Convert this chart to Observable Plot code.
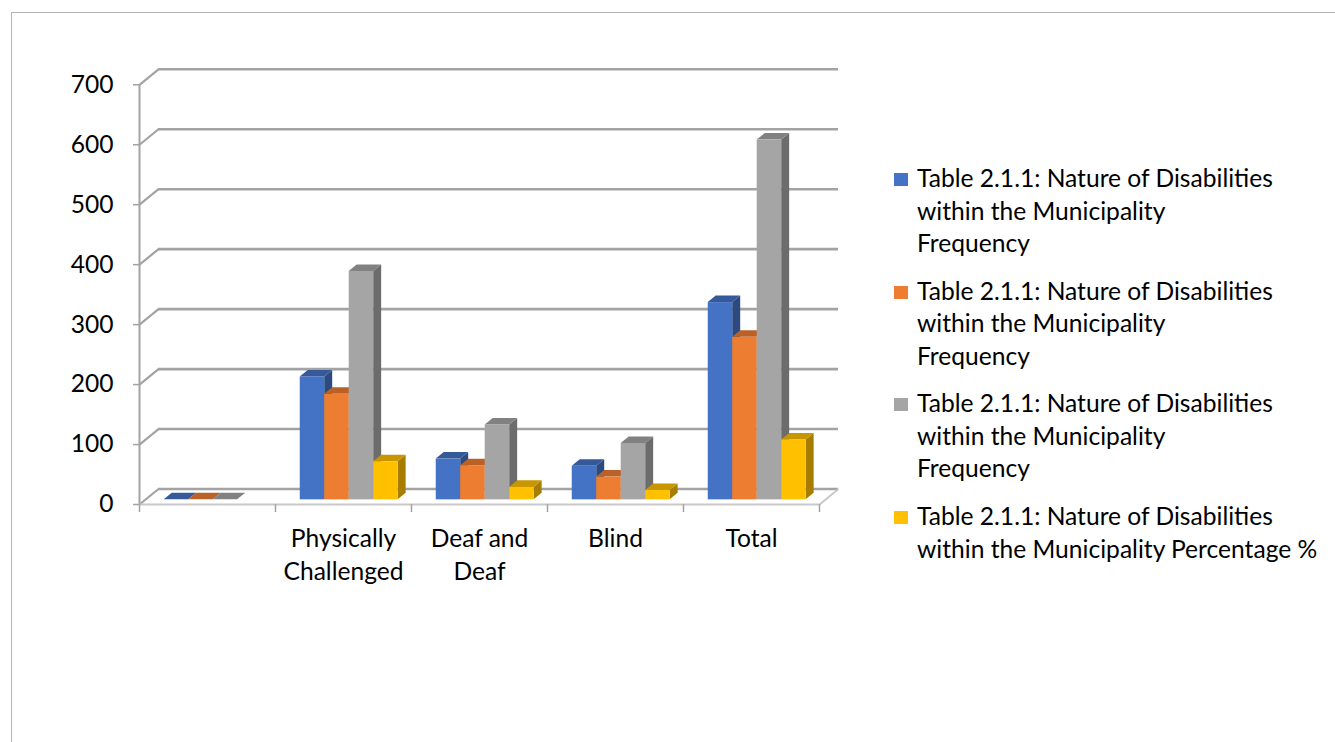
<!DOCTYPE html>
<html>
<head>
<meta charset="utf-8">
<script src="https://cdn.jsdelivr.net/npm/d3@7"></script>
<script src="https://cdn.jsdelivr.net/npm/@observablehq/plot@0.6"></script>
<style>
  html, body { margin: 0; padding: 0; overflow: hidden; background: #fff; width: 1335px; height: 742px; }
  #frame { position: absolute; left: 11px; top: 12px; width: 2000px; height: 2000px; border: 1.5px solid #b3b3b3; }
  #chart { position: absolute; left: 0; top: 0; }
  #legend { position: absolute; left: 894px; top: 162px; font-family: Lato, "Open Sans", sans-serif; font-size: 24.6px; line-height: 32.5px; color: #000; }
  .item { position: relative; padding-left: 23px; margin-bottom: 15.2px; white-space: pre; }
  .sw { position: absolute; left: 0; top: 11px; width: 14px; height: 13px; }
</style>
</head>
<body>
<div id="frame"></div>
<div id="chart"></div>
<div id="legend"></div>
<script>
// ---- data ----
const categories = ["", "Physically Challenged", "Deaf and Deaf", "Blind", "Total"];
const categoryLabels = ["", "Physically\nChallenged", "Deaf and\nDeaf", "Blind", "Total"];
const seriesNames = [
  "Table 2.1.1: Nature of Disabilities within the Municipality Frequency",
  "Table 2.1.1: Nature of Disabilities within the Municipality Frequency",
  "Table 2.1.1: Nature of Disabilities within the Municipality Frequency",
  "Table 2.1.1: Nature of Disabilities within the Municipality Percentage %"
];
const legendLines = [
  "Table 2.1.1: Nature of Disabilities\nwithin the Municipality\nFrequency",
  "Table 2.1.1: Nature of Disabilities\nwithin the Municipality\nFrequency",
  "Table 2.1.1: Nature of Disabilities\nwithin the Municipality\nFrequency",
  "Table 2.1.1: Nature of Disabilities\nwithin the Municipality Percentage %"
];
const series1 = [0, 205, 68, 56, 329];
const series2 = [0, 176, 57, 38, 271];
const series3 = [0, 381, 125, 94, 600];
const series4 = [null, 63.5, 20.8, 15.7, 100];
const yTicks = [0, 100, 200, 300, 400, 500, 600, 700];
const colors = ["#4472C4", "#ED7D31", "#A5A5A5", "#FFC000"];

// ---- geometry of the oblique 3D look (styling) ----
const DXU = 19 / 136;      // full floor depth in x units
const DYU = 15.5 / 0.5996; // full floor depth in y units
const F0 = 0.3, F1 = 0.72; // bar depth from / to
const BW = 0.18;           // bar width (category = 1)
const G0 = (1 - 4 * BW) / 2;

const allSeries = [series1, series2, series3, series4];
const bars = [];
allSeries.forEach((vals, s) => {
  vals.forEach((v, c) => {
    if (v == null) return;
    const x1 = c + G0 + s * BW + F0 * DXU;
    bars.push({id: `${s}-${c}`, s, c, v, x1, x2: x1 + BW});
  });
});
const dd = (F1 - F0);
function tops(s) {
  return bars.filter(b => b.s === s).flatMap(b => [
    {id: b.id, y: b.v + F0 * DYU, xl: b.x1, xr: b.x2},
    {id: b.id, y: b.v + F1 * DYU, xl: b.x1 + dd * DXU, xr: b.x2 + dd * DXU}
  ]);
}
function sides(s) {
  return bars.filter(b => b.s === s).flatMap(b => [
    {id: b.id, x: b.x2, y1: F0 * DYU, y2: b.v + F0 * DYU},
    {id: b.id, x: b.x2 + dd * DXU, y1: F1 * DYU, y2: b.v + F1 * DYU}
  ]);
}
const fronts = s => bars.filter(b => b.s === s);

const barMarks = [];
for (let s = 0; s < 4; s++) {
  const base = d3.color(colors[s]);
  barMarks.push(
    Plot.areaY(sides(s), {x: "x", y1: "y1", y2: "y2", z: "id", fill: base.darker(1.2).formatHex()}),
    Plot.areaX(tops(s), {y: "y", x1: "xl", x2: "xr", z: "id", fill: base.darker(0.7).formatHex()}),
    Plot.rect(fronts(s), {x1: "x1", x2: "x2", y1: () => F0 * DYU, y2: d => d.v + F0 * DYU, fill: colors[s]})
  );
}

const gridColor = "#a3a3a3";
const W = 860, H = 742;
const chart = Plot.plot({
  width: W,
  height: H,
  marginLeft: 139,
  marginRight: W - 819,
  marginTop: 84.3,
  marginBottom: H - 504,
  style: {fontFamily: "Lato, 'Open Sans', sans-serif", fontSize: "24.6px", color: "#000", background: "transparent"},
  x: {domain: [0, categories.length]},
  y: {domain: [0, 700]},
  marks: [
    // back wall gridlines
    Plot.ruleY(yTicks, {y: d => d + DYU, x1: DXU, x2: categories.length + DXU, stroke: gridColor, strokeWidth: 2.6}),
    // left wall diagonals
    Plot.link(yTicks, {x1: 0, y1: d => d, x2: DXU, y2: d => d + DYU, stroke: gridColor, strokeWidth: 2.2}),
    // front vertical axis line
    Plot.ruleX([0], {y1: 0, y2: 700, stroke: gridColor, strokeWidth: 2}),
    // floor front edge and right diagonal
    Plot.ruleY([0], {x1: 0, x2: categories.length, stroke: "#c8c8c8", strokeWidth: 2}),
    Plot.link([categories.length], {x1: d => d, y1: 0, x2: d => d + DXU, y2: DYU, stroke: "#c8c8c8", strokeWidth: 2}),
    Plot.axisY({ticks: yTicks, tickSize: 6, tickPadding: 20, stroke: gridColor, strokeWidth: 1.5, tickFormat: d => String(d), label: null}),
    Plot.axisX({ticks: d3.range(categories.length + 1), tickSize: 8, tickFormat: () => "", stroke: gridColor, strokeWidth: 1.5, label: null}),
    ...barMarks,
    Plot.text(categories.map((c, i) => ({i, label: categoryLabels[i]})), {
      x: d => d.i + 0.5, y: 0, text: "label", lineAnchor: "top", dy: 19, lineHeight: 1.34, fill: "#000"
    })
  ]
});
document.getElementById("chart").appendChild(chart);

// legend
const legend = document.getElementById("legend");
seriesNames.forEach((name, s) => {
  const item = document.createElement("div");
  item.className = "item";
  item.title = name;
  const sw = document.createElement("span");
  sw.className = "sw";
  sw.style.background = colors[s];
  item.appendChild(sw);
  item.appendChild(document.createTextNode(legendLines[s]));
  legend.appendChild(item);
});
</script>
</body>
</html>
